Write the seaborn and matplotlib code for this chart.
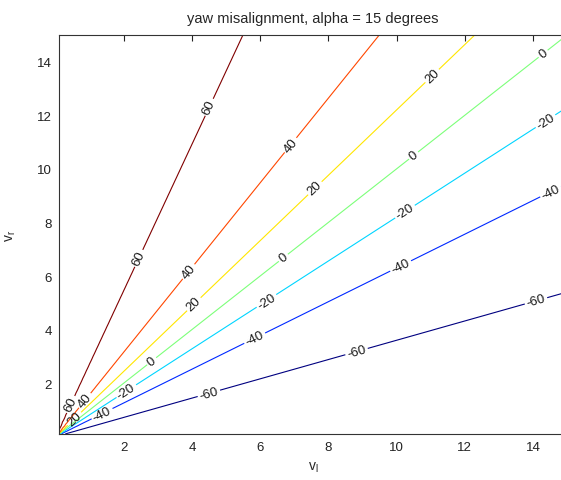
import matplotlib
matplotlib.use("Agg")
import matplotlib.pyplot as plt
import seaborn as sns
import numpy as np

# contour levels (yaw angle, degrees) and the slope vr/vl of each line
levels = [-60, -40, -20, 0, 20, 40, 60]
slopes = [0.36, 0.63, 0.82, 1.0, 1.22, 1.58, 2.73]
vl = np.arange(0.1, 15.01, 0.1)
vr = np.arange(0.1, 15.01, 0.1)

# where MATLAB put the inline labels (data coords)
label_pos = {
    60: [(4.51, 12.3), (2.39, 6.69), (0.45, 1.2)],
    40: [(6.88, 10.9), (3.87, 6.2), (0.85, 1.36)],
    20: [(11.1, 13.4), (7.59, 9.3), (4.07, 4.93), (0.55, 0.67)],
    0: [(14.3, 14.3), (10.5, 10.5), (6.73, 6.6), (2.83, 2.8)],
    -20: [(14.36, 11.8), (10.25, 8.4), (6.17, 5.1), (2.09, 1.67)],
    -40: [(14.5, 9.2), (10.13, 6.35), (5.87, 3.6), (1.41, 0.74)],
    -60: [(14.1, 5.03), (8.8, 3.3), (4.5, 1.6)],
}

sns.set_theme(style="white")
plt.rcParams['font.family'] = ['Liberation Sans', 'DejaVu Sans']
plt.rcParams['mathtext.default'] = 'regular'

fig = plt.figure(figsize=(5.61, 4.81), dpi=100)
ax = fig.add_axes([59 / 561, 46 / 481, 508 / 561, 399 / 481])

VL, VR = np.meshgrid(vl, vr)
Z = VR / VL
cols = plt.cm.jet(np.linspace(0, 1, len(levels)))
cs = ax.contour(VL, VR, Z, levels=slopes, colors=cols, linewidths=0.8)

fmt = {s: str(lv) for s, lv in zip(slopes, levels)}
manual = [p for lv in levels for p in label_pos[lv]]
ax.clabel(cs, fmt=fmt, inline=True, fontsize=9.5, colors='k', manual=manual,
          inline_spacing=2)

ax.set_xlim(0.1, 15)
ax.set_ylim(0.1, 15)
ax.set_xticks(np.arange(2, 15, 2))
ax.set_yticks(np.arange(2, 15, 2))
ax.tick_params(direction='in', length=4, width=0.8, top=True, right=True,
               labelsize=9.5, colors='#222222', pad=5)
for sp in ax.spines.values():
    sp.set_color('#333333')
    sp.set_linewidth(0.8)

ax.set_title('yaw misalignment, alpha = 15 degrees', fontsize=10.5, pad=9)
ax.set_xlabel('v$_l$', fontsize=10, labelpad=5)
ax.set_ylabel('v$_r$', fontsize=10, labelpad=14)

fig.savefig('out.png', dpi=100)
